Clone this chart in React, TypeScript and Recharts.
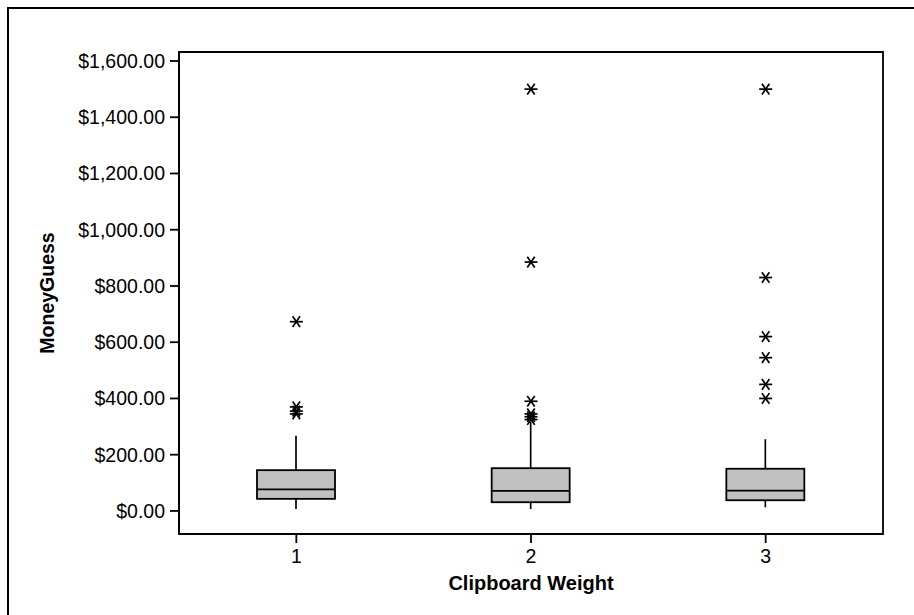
import React from 'react';
import { ComposedChart, Bar, Scatter, XAxis, YAxis, ReferenceArea } from 'recharts';

const categories = ['1', '2', '3'];
const whiskerLow = [7, 7, 13];
const q1 = [43, 31, 38];
const median = [77, 71, 72];
const q3 = [145, 152, 150];
const whiskerHigh = [267, 317, 255];
const outliers1 = [673, 370, 355, 345];
const outliers2 = [1500, 885, 390, 345, 335, 325];
const outliers3 = [1500, 830, 620, 545, 450, 400];
const yTicks = [0, 200, 400, 600, 800, 1000, 1200, 1400, 1600];

const boxData = categories.map((c, i) => ({
  cat: c,
  range: [whiskerLow[i], whiskerHigh[i]],
  lo: whiskerLow[i],
  q1: q1[i],
  med: median[i],
  q3: q3[i],
  hi: whiskerHigh[i],
}));

const outlierData = [outliers1, outliers2, outliers3].flatMap((arr, i) =>
  arr.map((v) => ({ cat: categories[i], v }))
);

const FONT = '"Liberation Sans", Arial, sans-serif';

const fmt = (v: number) =>
  '$' + v.toLocaleString('en-US', { minimumFractionDigits: 2, maximumFractionDigits: 2 });

const BoxShape = (props: any) => {
  const { x, y, width, height, payload } = props;
  const { lo, hi } = payload;
  const per = height / (hi - lo);
  const yOf = (v: number) => y + (hi - v) * per;
  const cx = x + width / 2;
  return (
    <g>
      <line x1={cx} x2={cx} y1={yOf(hi)} y2={yOf(payload.q3)} stroke="#000" strokeWidth={1.7} />
      <line x1={cx} x2={cx} y1={yOf(payload.q1)} y2={yOf(lo)} stroke="#000" strokeWidth={1.7} />
      <rect
        x={x}
        y={yOf(payload.q3)}
        width={width}
        height={yOf(payload.q1) - yOf(payload.q3)}
        fill="#c0c0c0"
        stroke="#000"
        strokeWidth={1.8}
      />
      <line x1={x} x2={x + width} y1={yOf(payload.med)} y2={yOf(payload.med)} stroke="#000" strokeWidth={1.8} />
    </g>
  );
};

const StarShape = (props: any) => {
  const { cx, cy } = props;
  const r = 6.5;
  const a = (55 * Math.PI) / 180;
  const dx = r * Math.cos(a);
  const dy = r * Math.sin(a);
  return (
    <g stroke="#000" strokeWidth={1.7}>
      <line x1={cx - r} x2={cx + r} y1={cy} y2={cy} />
      <line x1={cx - dx} x2={cx + dx} y1={cy - dy} y2={cy + dy} />
      <line x1={cx - dx} x2={cx + dx} y1={cy + dy} y2={cy - dy} />
    </g>
  );
};

export default function App() {
  return (
    <div style={{ position: 'absolute', left: 0, top: 0, width: 914, height: 615, overflow: 'hidden', background: '#fff' }}>
      <div
        style={{
          position: 'absolute',
          left: 7,
          top: 7,
          width: 1000,
          height: 1000,
          border: '2px solid #000',
          boxSizing: 'border-box',
        }}
      />
      <div style={{ position: 'absolute', left: 0, top: 0 }}>
        <ComposedChart
          width={914}
          height={615}
          data={boxData}
          margin={{ top: 52, right: 31, left: 0, bottom: 0 }}
          style={{ fontFamily: FONT }}
        >
          <XAxis
            dataKey="cat"
            type="category"
            allowDuplicatedCategory={false}
            height={81}
            tickSize={9}
            tickMargin={6}
            axisLine={{ stroke: '#000', strokeWidth: 1.8 }}
            tickLine={{ stroke: '#000', strokeWidth: 1.8 }}
            tick={{ fill: '#000', fontSize: 19.5, fontFamily: FONT }}
            label={{
              value: 'Clipboard Weight',
              position: 'insideBottom',
              offset: 25,
              style: { fill: '#000', fontSize: 20, fontWeight: 'bold', fontFamily: FONT },
            }}
          />
          <YAxis
            type="number"
            domain={[-82, 1632]}
            ticks={yTicks}
            interval={0}
            width={179}
            tickSize={9}
            tickMargin={5}
            tickFormatter={fmt}
            axisLine={{ stroke: '#000', strokeWidth: 1.8 }}
            tickLine={{ stroke: '#000', strokeWidth: 1.8 }}
            tick={{ fill: '#000', fontSize: 19.5, fontFamily: FONT }}
            label={{
              value: 'MoneyGuess',
              angle: -90,
              position: 'insideLeft',
              offset: 47,
              style: { textAnchor: 'middle', fill: '#000', fontSize: 19.5, fontWeight: 'bold', fontFamily: FONT },
            }}
          />
          <ReferenceArea y1={-82} y2={1632} fill="none" stroke="#000" strokeWidth={1.8} ifOverflow="visible" />
          <Bar dataKey="range" barSize={78} shape={BoxShape} isAnimationActive={false} />
          <Scatter data={outlierData} dataKey="v" shape={StarShape} isAnimationActive={false} />
        </ComposedChart>
      </div>
    </div>
  );
}
